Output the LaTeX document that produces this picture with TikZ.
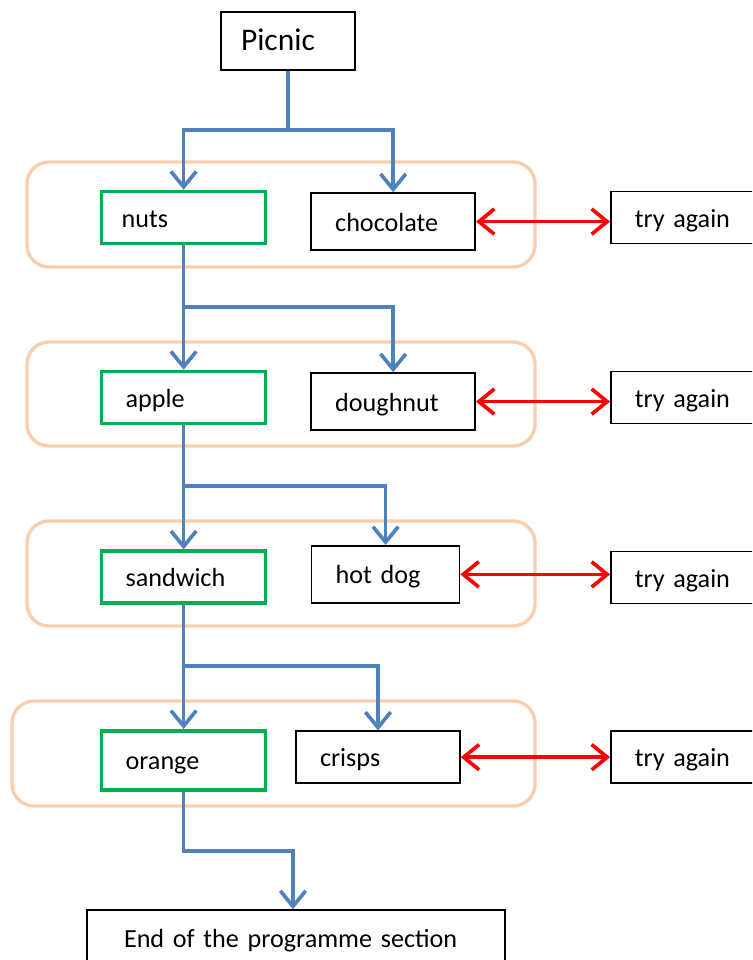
\documentclass[tikz,border=0pt]{standalone}
\usepackage{fontspec}
\setmainfont{Carlito}
\usetikzlibrary{arrows.meta}

\definecolor{flowblue}{RGB}{79,129,189}
\definecolor{pickgreen}{RGB}{0,176,80}
\definecolor{groupbeige}{RGB}{250,206,172}

\begin{document}
\begin{tikzpicture}[
    every node/.style={font=\fontsize{18.6}{22}\selectfont},
    box/.style={
        draw,
        line width=1.1pt,
        inner xsep=0.6cm,
        inner ysep=0pt,
        text width=2.9cm,
        align=left,
        text height=1.35em,
        text depth=0pt,
        minimum height=1.3cm
    },
    choice/.style={box, draw=pickgreen, line width=2.6pt},
    group/.style={draw=groupbeige, line width=2.4pt, rounded corners=0.55cm},
    flow/.style={draw=flowblue, line width=2.6pt, -{Straight Barb[length=11pt,width=18pt]}},
    retry/.style={draw=red, line width=2.6pt,
        {Straight Barb[length=11pt,width=18pt]}-{Straight Barb[length=11pt,width=18pt]}}
]

\clip (0,0) rectangle (18.8,-24);

% Groups
\draw[group] (0.675,-4.05) rectangle (13.375,-6.675);
\draw[group] (0.675,-8.55) rectangle (13.375,-11.15);
\draw[group] (0.675,-13.025) rectangle (13.375,-15.65);
\draw[group] (0.3,-17.525) rectangle (13.375,-20.15);

% Start
\node[box, text width=2.35cm, inner xsep=0.5cm, minimum height=1.45cm,
    font=\fontsize{22.4}{26}\selectfont] (picnic) at (7.2,-1.025) {Picnic};

% Row 1
\node[choice, text width=3.1cm, inner xsep=0.5cm] (nuts) at (4.59,-5.44) {nuts};
\node[box, minimum height=1.43cm] (chocolate) at (9.83,-5.54) {chocolate};
\node[box, anchor=west] (try1) at (15.25,-5.44) {try again};

% Row 2
\node[choice] (apple) at (4.59,-9.94) {apple};
\node[box, minimum height=1.43cm] (doughnut) at (9.83,-10.04) {doughnut};
\node[box, anchor=west] (try2) at (15.25,-9.94) {try again};

% Row 3
\node[choice] (sandwich) at (4.59,-14.43) {sandwich};
\node[box, text width=2.5cm, minimum height=1.43cm] (hotdog) at (9.64,-14.36) {hot dog};
\node[box, anchor=west] (try3) at (15.25,-14.44) {try again};

% Row 4
\node[choice, minimum height=1.48cm] (orange) at (4.59,-19.01) {orange};
\node[box] (crisps) at (9.45,-18.93) {crisps};
\node[box, anchor=west] (try4) at (15.25,-18.93) {try again};

% End
\node[box, text width=8.6cm, inner xsep=0.925cm, minimum height=1.4cm] (finish) at (7.4,-23.45)
    {End of the programme section};

% Blue flow
\coordinate (split1) at (7.2,-3.25);
\draw[flow] (picnic) -- (split1) -| (nuts);
\draw[flow] (split1) -| (chocolate);

\coordinate (split2) at (4.59,-7.675);
\draw[flow] (nuts) -- (apple);
\draw[flow] (split2) -| (doughnut);

\coordinate (split3) at (4.59,-12.15);
\draw[flow] (apple) -- (sandwich);
\draw[flow] (split3) -| (hotdog);

\coordinate (split4) at (4.59,-16.65);
\draw[flow] (sandwich) -- (orange);
\draw[flow] (split4) -| (crisps);

\coordinate (bend) at (4.59,-21.275);
\draw[flow] (orange) -- (bend) -| ([xshift=-0.075cm]finish.north);

% Red arrows
\draw[retry] (chocolate.east) -- (chocolate.east -| try1.west);
\draw[retry] (doughnut.east) -- (doughnut.east -| try2.west);
\draw[retry] (hotdog.east) -- (hotdog.east -| try3.west);
\draw[retry] (crisps.east) -- (crisps.east -| try4.west);

\end{tikzpicture}
\end{document}
